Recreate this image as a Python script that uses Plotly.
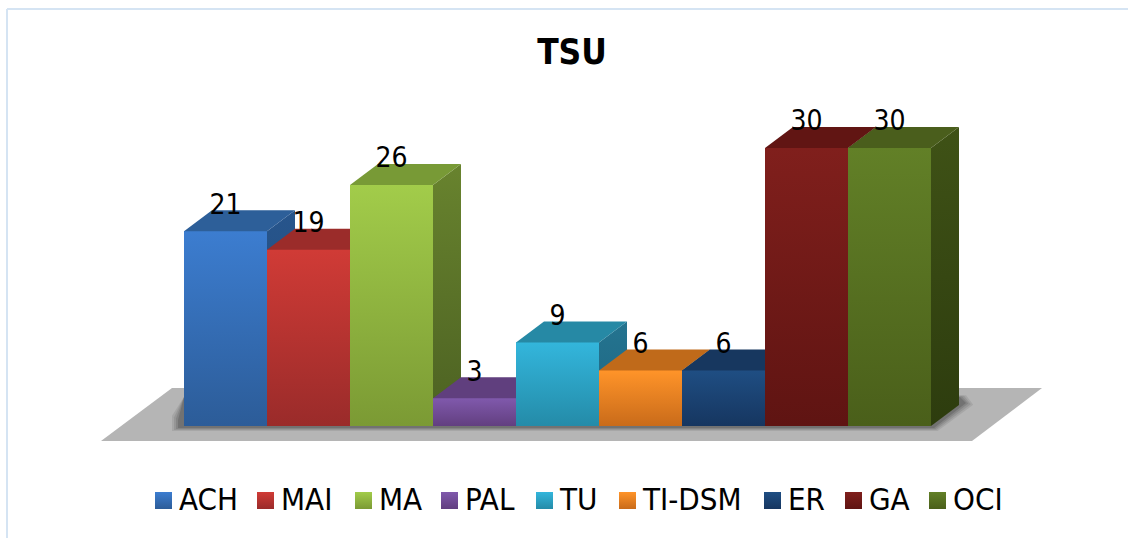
import plotly.graph_objects as go

categories = ["ACH", "MAI", "MA", "PAL", "TU", "TI-DSM", "ER", "GA", "OCI"]
values = [21, 19, 26, 3, 9, 6, 6, 30, 30]

front_top = ["#3c7dd0", "#d03b36", "#a2cc4a", "#8059ac", "#33b6dc", "#ff9429", "#1f4e83", "#801f1c", "#628027"]
front_bottom = ["#2c5c98", "#9a2b2a", "#7b9a34", "#623f80", "#248ba8", "#c96b1a", "#163660", "#5f1412", "#4a5f1a"]
top_face = ["#2d5f99", "#9b2c2a", "#789a36", "#603f7e", "#2689a5", "#c06a1a", "#17375f", "#611513", "#4a5e1c"]
side_top = ["#27558c", "#8a2725", "#68832e", "#553770", "#247490", "#a85d17", "#143054", "#551110", "#3f5216"]
side_bottom = ["#224a7a", "#772120", "#4c6122", "#4a3062", "#1f6580", "#925014", "#102845", "#450e0d", "#2d3c0e"]

W, H = 1128, 538
X0, SLOT, BASE, UNIT = 184.0, 83.0, 426.0, 9.27
DX, DY = 28 / SLOT, 21 / UNIT
OVERLAP = 1.5 / UNIT
FONT = "'DejaVu Sans Condensed', Tahoma, 'DejaVu Sans', sans-serif"


def ux(px):
    return (px - X0) / SLOT


def uy(py):
    return (BASE - py) / UNIT


fig = go.Figure()


def poly(xs, ys, name, color=None, grad=None):
    kw = {}
    if grad:
        kw["fillgradient"] = dict(type="vertical", colorscale=[[0, grad[1]], [1, grad[0]]])
    else:
        kw["fillcolor"] = color
    fig.add_trace(go.Scatter(x=xs + xs[:1], y=ys + ys[:1], mode="lines", fill="toself",
                             line=dict(width=0), name=name, showlegend=False,
                             hoverinfo="skip", **kw))


# Floor
poly([ux(101), ux(972), ux(1042), ux(172)], [uy(441), uy(441), uy(388), uy(388)], "floor", "#b5b5b5")

# Soft contact shadow on the floor
n = len(values)
for g, alpha in [(6, 0.10), (4, 0.12), (2, 0.15), (0, 0.20)]:
    sx = [178 - g, 178 - g, 934 + g * 0.6, 966 + g * 1.2, 960 + g, 184]
    sy = [420 - g * 0.7, 428 + g * 0.5, 428 + g * 0.5, 403 + g * 0.3, 397 - g * 0.3, 397]
    poly([ux(p) for p in sx], [uy(p) for p in sy], "shadow", f"rgba(40,40,40,{alpha})")

# Bars
for i, (cat, v) in enumerate(zip(categories, values)):
    poly([i + 1, i + 1 + DX, i + 1 + DX, i + 1], [0, DY, v + DY, v], cat + " side",
         grad=(side_top[i], side_bottom[i]))
    poly([i, i, i + DX, i + 1 + DX, i + 1, i + 1],
         [v - OVERLAP, v, v + DY, v + DY, v, v - OVERLAP], cat + " top", top_face[i])
    poly([i, i + 1, i + 1, i], [0, 0, v, v], cat, grad=(front_top[i], front_bottom[i]))

# Data labels
fig.add_trace(go.Scatter(x=[i + 0.5 for i in range(n)], y=[v + 24.5 / UNIT for v in values],
                         mode="text", text=[str(v) for v in values], textposition="middle center",
                         textfont=dict(family=FONT, size=28, color="#000000"),
                         showlegend=False, hoverinfo="skip", name="labels"))

# Legend
legend_left = [155, 257, 355, 441, 536, 619, 764, 845, 929]
for i, cat in enumerate(categories):
    fig.add_trace(go.Scatter(x=[ux(legend_left[i] + 8.5)], y=[uy(500.5)], mode="markers",
                             marker=dict(symbol="square", size=17, color=front_top[i], line=dict(width=0),
                                         gradient=dict(type="vertical", color=front_bottom[i])),
                             showlegend=False, hoverinfo="skip", name=cat))
    fig.add_trace(go.Scatter(x=[ux(legend_left[i] + 24)], y=[uy(502)], mode="text",
                             text=[cat], textposition="middle right",
                             textfont=dict(family=FONT, size=31, color="#000000"),
                             showlegend=False, hoverinfo="skip", name=cat + " label"))

fig.update_layout(
    width=W, height=H, margin=dict(l=0, r=0, t=0, b=0, pad=0),
    paper_bgcolor="#ffffff", plot_bgcolor="rgba(0,0,0,0)", showlegend=False,
    title=dict(text="<b>TSU</b>", x=572 / W, y=1 - 52 / H, xanchor="center", yanchor="middle",
               font=dict(family=FONT, size=35, color="#000000")),
    xaxis=dict(range=[ux(0), ux(W)], visible=False, fixedrange=True),
    yaxis=dict(range=[uy(H), uy(0)], visible=False, fixedrange=True),
    shapes=[
        dict(type="line", xref="paper", yref="paper", x0=7 / W, x1=1, y0=1 - 9 / H, y1=1 - 9 / H,
             line=dict(color="#d5e4f3", width=2)),
        dict(type="line", xref="paper", yref="paper", x0=7 / W, x1=7 / W, y0=0, y1=1 - 9 / H,
             line=dict(color="#d5e4f3", width=2)),
    ],
)

fig.write_html("out.html", config={"displayModeBar": False},
               post_script="document.body.style.margin='0';document.documentElement.style.overflow='hidden';")
